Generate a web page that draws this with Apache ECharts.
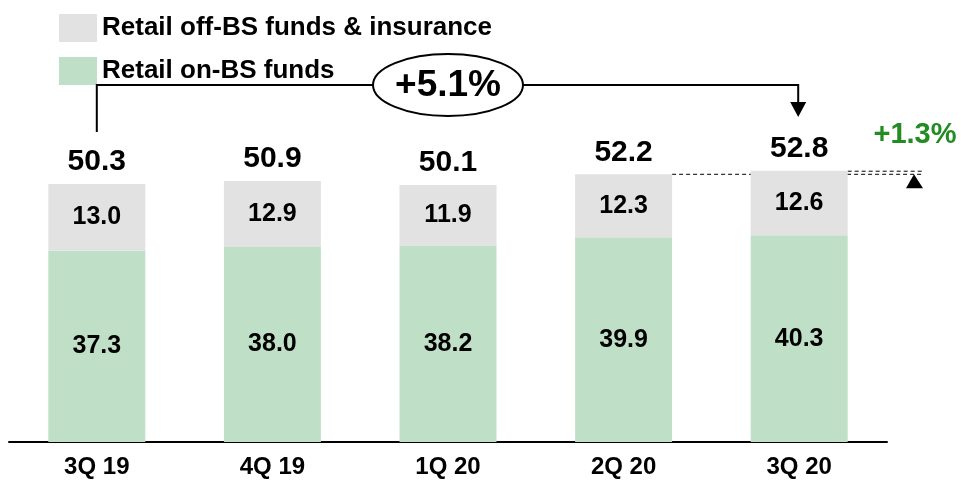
<!DOCTYPE html>
<html>
<head>
<meta charset="utf-8">
<script src="https://cdn.jsdelivr.net/npm/echarts@6/dist/echarts.min.js"></script>
<style>
  html, body { margin: 0; padding: 0; background: #fff; }
  #chart { width: 961px; height: 481px; }
</style>
</head>
<body>
<div id="chart"></div>
<script>
const categories = ['3Q 19', '4Q 19', '1Q 20', '2Q 20', '3Q 20'];
const onBS = [37.3, 38.0, 38.2, 39.9, 40.3];
const offBS = [13.0, 12.9, 11.9, 12.3, 12.6];
const totals = [50.3, 50.9, 50.1, 52.2, 52.8];
const growthYoY = '+5.1%';
const growthQoQ = '+1.3%';

const FONT = '"Liberation Sans", Arial, sans-serif';
const chart = echarts.init(document.getElementById('chart'));

const fmt = p => p.value.toFixed(1);

chart.setOption({
  animation: false,
  backgroundColor: '#fff',
  textStyle: { fontFamily: FONT },
  grid: { left: 9, right: 74, top: 83, bottom: 39 },
  legend: {
    data: ['Retail off-BS funds & insurance', 'Retail on-BS funds'],
    orient: 'vertical',
    left: 54,
    top: 9,
    itemWidth: 38,
    itemHeight: 28,
    itemGap: 15,
    icon: 'rect',
    textStyle: { fontFamily: FONT, fontWeight: 'bold', fontSize: 26, color: '#000' }
  },
  xAxis: {
    type: 'category',
    data: categories,
    axisLine: { lineStyle: { color: '#000', width: 2 } },
    axisTick: { show: false },
    axisLabel: { fontFamily: FONT, fontWeight: 'bold', fontSize: 24, color: '#000', margin: 13 }
  },
  yAxis: { type: 'value', min: 0, max: 70, show: false, splitLine: { show: false } },
  series: [
    {
      name: 'Total',
      type: 'bar',
      barWidth: 97,
      barGap: '-100%',
      data: totals,
      itemStyle: { color: 'rgba(255,255,255,0)' },
      label: { show: true, position: 'top', distance: 7, formatter: fmt, fontFamily: FONT, fontWeight: 'bold', fontSize: 30, color: '#000' },
      z: 1
    },
    {
      name: 'Retail on-BS funds',
      type: 'bar',
      stack: 'total',
      barWidth: 97,
      data: onBS,
      itemStyle: { color: '#bfe0c6' },
      label: { show: true, position: 'inside', formatter: fmt, fontFamily: FONT, fontWeight: 'bold', fontSize: 25, color: '#000' }
    },
    {
      name: 'Retail off-BS funds & insurance',
      type: 'bar',
      stack: 'total',
      barWidth: 97,
      data: offBS,
      itemStyle: { color: '#e2e2e2' },
      label: { show: true, position: 'inside', formatter: fmt, fontFamily: FONT, fontWeight: 'bold', fontSize: 25, color: '#000' }
    }
  ]
});

// annotations placed from the axes' own scales
const px = (i, v) => chart.convertToPixel({ gridIndex: 0 }, [i, v]);
const first = px(0, totals[0]);
const mid = px(2, totals[2]);
const last = px(4, totals[4]);
const prev = px(3, totals[3]);
const half = 48.5;
const yBr = 85;
const lineStyle = { stroke: '#000', lineWidth: 2, fill: null };
const xArrow = 914;

chart.setOption({
  graphic: [
    { type: 'polyline', z: 10, shape: { points: [[first[0], first[1] - 52], [first[0], yBr], [last[0] - 1, yBr], [last[0] - 1, 103]] }, style: lineStyle },
    { type: 'polygon', z: 10, shape: { points: [[last[0] - 9, 102], [last[0] + 7, 102], [last[0] - 1, 117]] }, style: { fill: '#000' } },
    { type: 'ellipse', z: 11, shape: { cx: mid[0], cy: yBr, rx: 75, ry: 31 }, style: { fill: '#fff', stroke: '#000', lineWidth: 2 } },
    { type: 'text', z: 12, x: mid[0], y: yBr + 1, style: { text: growthYoY, fontFamily: FONT, fontWeight: 'bold', fontSize: 37, fill: '#000', align: 'center', verticalAlign: 'middle' } },
    { type: 'line', z: 1, shape: { x1: prev[0] + half, y1: prev[1], x2: xArrow + 9, y2: prev[1] }, style: { stroke: '#000', lineWidth: 1, lineDash: [4, 3] } },
    { type: 'line', z: 1, shape: { x1: last[0] + half, y1: last[1], x2: xArrow + 9, y2: last[1] }, style: { stroke: '#000', lineWidth: 1, lineDash: [4, 3] } },
    { type: 'polygon', z: 10, shape: { points: [[xArrow, prev[1]], [xArrow - 8, prev[1] + 14], [xArrow + 9, prev[1] + 14]] }, style: { fill: '#000' } },
    { type: 'text', z: 12, x: xArrow + 1, y: 135, style: { text: growthQoQ, fontFamily: FONT, fontWeight: 'bold', fontSize: 29, fill: '#228B22', align: 'center', verticalAlign: 'middle' } }
  ]
});
</script>
</body>
</html>
